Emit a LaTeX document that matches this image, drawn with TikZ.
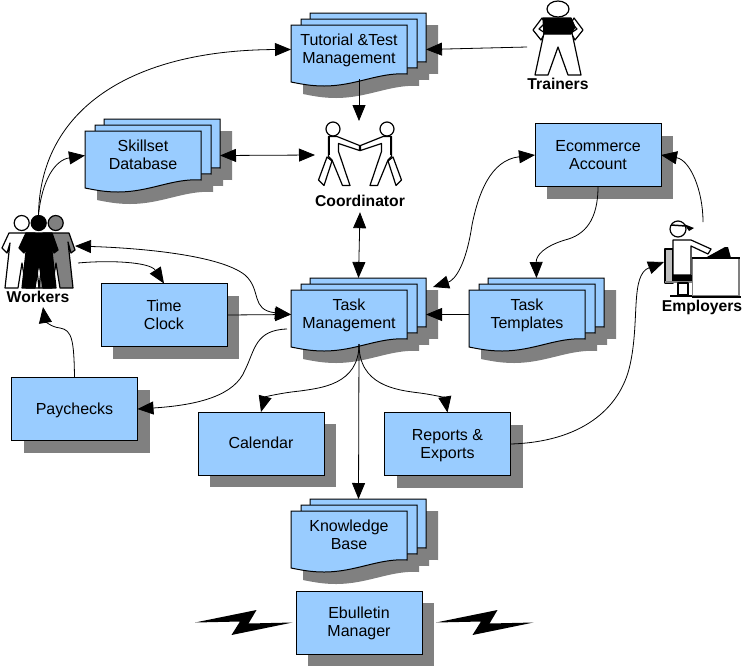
\documentclass[tikz,border=0pt]{standalone}
\usepackage{fontspec}
\setmainfont{Liberation Sans}
\usetikzlibrary{arrows.meta,shadows}
\definecolor{boxblue}{HTML}{99CCFF}
\definecolor{shadowgray}{HTML}{808080}
\newcommand{\linestrut}{\rule[-5.4pt]{0pt}{18pt}}
\newcommand{\topstrut}{\rule[-5.4pt]{0pt}{21.5pt}}
\tikzset{
  boxlabel/.style={align=center, font=\fontsize{16}{18}\selectfont, inner sep=0pt},
  actorlabel/.style={align=center, font=\fontsize{15.7}{18}\selectfont\bfseries, inner sep=0pt},
  docsheet/.style={fill=boxblue, draw=black, line width=1pt},
  stackarea/.style={minimum width=135pt, minimum height=73pt, inner sep=0pt, outer sep=0pt},
  figarea/.style={inner sep=0pt, outer sep=0pt},
  flatbox/.style={boxlabel, fill=boxblue, draw=black, line width=1pt, minimum width=126pt, minimum height=63pt,
    outer sep=0pt,
    drop shadow={shadow xshift=12pt, shadow yshift=-12pt, fill=shadowgray, opacity=1}},
  figline/.style={draw=black, line width=1.2pt, line join=round},
  flow/.style={draw=black, line width=0.8pt, -{Triangle[length=16pt,width=13pt]}},
  flowboth/.style={draw=black, line width=0.8pt, {Triangle[length=16pt,width=13pt]}-{Triangle[length=16pt,width=13pt]}}
}
\newcommand{\docpath}{(0,0) -- (116,0) -- (116,49) .. controls (88,47) and (65,61) .. (33,61) .. controls (20,61) and (10,59) .. (0,57) -- cycle}
% name, left, top, first line, second line
\newcommand{\docstack}[5]{
  \begin{scope}[shift={(#2,#3)}]
    \foreach \ox/\oy in {31/12,22/18,12/24}
      \fill[shadowgray, shift={(\ox,\oy)}] \docpath;
    \foreach \ox/\oy in {19/0,10/6,0/12}
      \path[docsheet, shift={(\ox,\oy)}] \docpath;
    \node[stackarea] (#1) at (67.5,36.5) {};
    \node[boxlabel] (#1-text) at (58,37.5) {\linestrut #4\\#5\linestrut};
    \coordinate (#1-wave) at (68,66);
  \end{scope}
}
\begin{document}
\begin{tikzpicture}[x=1pt,y=-1pt]
  \useasboundingbox (0,0) rectangle (743,667);

  % Document stacks
  \docstack{tutorial}{291}{13}{Tutorial \&Test}{Management}
  \docstack{skillset}{85}{119}{Skillset}{Database}
  \docstack{task}{291}{278}{Task}{Management}
  \docstack{templates}{469}{278}{Task}{Templates}
  \docstack{knowledge}{291}{499}{Knowledge}{Base}

  % Plain boxes
  \node[flatbox] (ecommerce) at (598,155) {\topstrut Ecommerce\\Account\linestrut};
  \node[flatbox] (timeclock) at (164,315) {\topstrut Time\\Clock\linestrut};
  \node[flatbox] (paychecks) at (74.5,409) {\topstrut Paychecks};
  \node[flatbox] (calendar) at (261,443.5) {\topstrut Calendar};
  \node[flatbox] (reports) at (447.5,444) {\topstrut Reports \&\\Exports\linestrut};
  \node[flatbox] (ebulletin) at (359,622.5) {\topstrut Ebulletin\\Manager\linestrut};

  % Lightning bolts beside the bulletin box
  \foreach \ox in {0,241} {
    \fill[black, shift={(\ox,0)}] (195,622.5) -- (256.5,610) -- (248.5,623.5) -- (292.5,622.5)
      -- (231.5,635) -- (240,621.5) -- cycle;
  }

  % Trainer
  \path[figline, fill=white] (542,18) -- (533,30) -- (541,40) -- (545,33) -- (539,29) -- (545,23) -- cycle;
  \path[figline, fill=white] (574,18) -- (583,30) -- (575,40) -- (571,33) -- (577,29) -- (571,23) -- cycle;
  \path[figline, fill=white] (544,33) -- (535,75) -- (548,75) -- (558,47) -- (568,75) -- (581,75) -- (572,33) -- cycle;
  \path[figline, fill=black] (543,18) -- (571,18) -- (575,27) -- (571,34) -- (544,34) -- cycle;
  \path[figline, fill=white] (558,9) ellipse (11 and 8);
  \node[figarea, minimum width=62pt, minimum height=74pt] (trainers) at (558,47) {};
  \node[actorlabel] (trainerslabel) at (558,84) {Trainers};

  % Coordinator, two people shaking hands
  \foreach \flip/\ox in {1/0,-1/720} {
    \begin{scope}[xshift=\ox pt, xscale=\flip]
      \path[figline, fill=white] (327,157) -- (318.5,180) -- (324,185.5) -- (332,161) -- cycle;
      \path[figline, fill=white] (337,136.5) -- (359.5,145.5) -- (359.5,150.5) -- (338.5,143.5) -- (338.5,151.5)
        -- (350,185.5) -- (342.5,185.5) -- (332,160) -- (328.5,156.5) -- (328.5,136.5) -- cycle;
      \draw[black, line width=2pt] (329,137) -- (329,155);
      \path[figline, fill=white] (333,129) circle (7);
    \end{scope}
  }
  \node[figarea, minimum width=88pt, minimum height=68pt] (coordinator) at (359,155) {};
  \node[actorlabel, minimum height=22pt] (coordlabel) at (360,201) {Coordinator};

  % Workers, three people side by side
  \foreach \ox/\shade in {-17/white,17/shadowgray,0/black} {
    \begin{scope}[xshift=\ox pt]
      \path[figline, fill=\shade] (26,233) -- (52,233) -- (58,250) -- (54,253) -- (51,242) -- (56,288) -- (43,288)
        -- (39,263) -- (35,288) -- (22,288) -- (27,243) -- (24,253) -- (19,248) -- cycle;
      \path[figline, fill=\shade] (38.7,223) circle (7.5);
    \end{scope}
  }
  \node[figarea, minimum width=73pt, minimum height=62pt] (workers) at (38.5,246) {};
  \node[actorlabel] (workerslabel) at (38,297) {Workers};

  % Employer at a desk
  \path[figline, fill=shadowgray!50] (665,249) rectangle (673,283);
  \path[fill=shadowgray] (665,281) rectangle (693,283);
  \path[figline, fill=white] (678,283) rectangle (688,295);
  \draw[black, line width=2pt] (670,295.5) -- (692,295.5);
  \path[figline, fill=white] (673,240) -- (691,240) -- (711,249) -- (708,254) -- (691,246) -- (691,275) -- (673,275) -- cycle;
  \fill[black] (673,275) rectangle (693,281);
  \path[figline, fill=white] (678,229) circle (8);
  \draw[black, line width=1.5pt] (671,225) -- (686,226);
  \fill[black] (684,224) -- (694,228) -- (689,231) -- cycle;
  \fill[black] (705,258) -- (725,247) -- (728,247) -- (731,258) -- cycle;
  \path[fill=white, draw=shadowgray, line width=1.5pt] (692.5,258.5) rectangle (739,296);
  \draw[black, line width=1.2pt] (692,258) -- (740,258);
  \draw[black, line width=2pt] (692,297) -- (741,297);
  \node[figarea, minimum width=78pt, minimum height=76pt] (employers) at (703,262) {};
  \node[actorlabel] (employerslabel) at (702,307) {Employers};

  % Free ends of the connectors
  \coordinate (taskcorner) at (433,287);
  \coordinate (taskleft) at (287,329);
  \coordinate (workerside) at (78,263);
  \coordinate (workersfoot) at (43,307);
  \coordinate (employerstop) at (703,222);

  % Connectors
  \draw[flow] (trainers.west) -- (tutorial.east);
  \draw[flow] (workers.north) .. controls (40,110) and (130,50) .. (tutorial.west);
  \draw[flow] (workers.north) .. controls (42,180) and (55,160) .. (skillset.west);
  \draw[flowboth] (skillset.east) -- (coordinator.west);
  \draw[flow] (tutorial-wave) -- (coordinator.north);
  \draw[flowboth] (coordlabel.south) -- (task.north);
  \draw[flowboth] (ecommerce.west) .. controls (490,160) and (478,195) .. (472,225)
    .. controls (466,265) and (455,280) .. (taskcorner);
  \draw[flow] (employerstop) .. controls (703,190) and (690,160) .. (ecommerce.east);
  \draw[flow] (ecommerce.south) .. controls (598,220) and (585,235) .. (565,240)
    .. controls (545,246) and (536,255) .. (templates.north);
  \draw[flow] (templates.west) -- (task.east);
  \draw[flowboth] (workers.east) .. controls (140,248) and (220,255) .. (245,275)
    .. controls (262,290) and (250,310) .. (task.west);
  \draw[flow] (workerside) .. controls (110,260) and (150,262) .. (timeclock.north);
  \draw[flow] (timeclock.east) -- (task.west);
  \draw[flow] (taskleft) .. controls (255,330) and (255,350) .. (245,370)
    .. controls (235,395) and (200,405) .. (paychecks.east);
  \draw[flow] (paychecks.north) .. controls (74,340) and (72,330) .. (60,328)
    .. controls (50,327) and (45,320) .. (workersfoot);
  \draw[flow] (task-wave) .. controls (359,385) and (320,388) .. (300,391)
    .. controls (280,393) and (265,397) .. (calendar.north);
  \draw[flow] (task-wave) .. controls (359,385) and (395,390) .. (420,393)
    .. controls (435,395) and (445,398) .. (reports.north);
  \draw[flow] (task-wave) -- (knowledge.north);
  \draw[flow] (reports.east) .. controls (580,442) and (620,410) .. (630,365)
    .. controls (640,320) and (630,275) .. (employers.west);
\end{tikzpicture}
\end{document}
